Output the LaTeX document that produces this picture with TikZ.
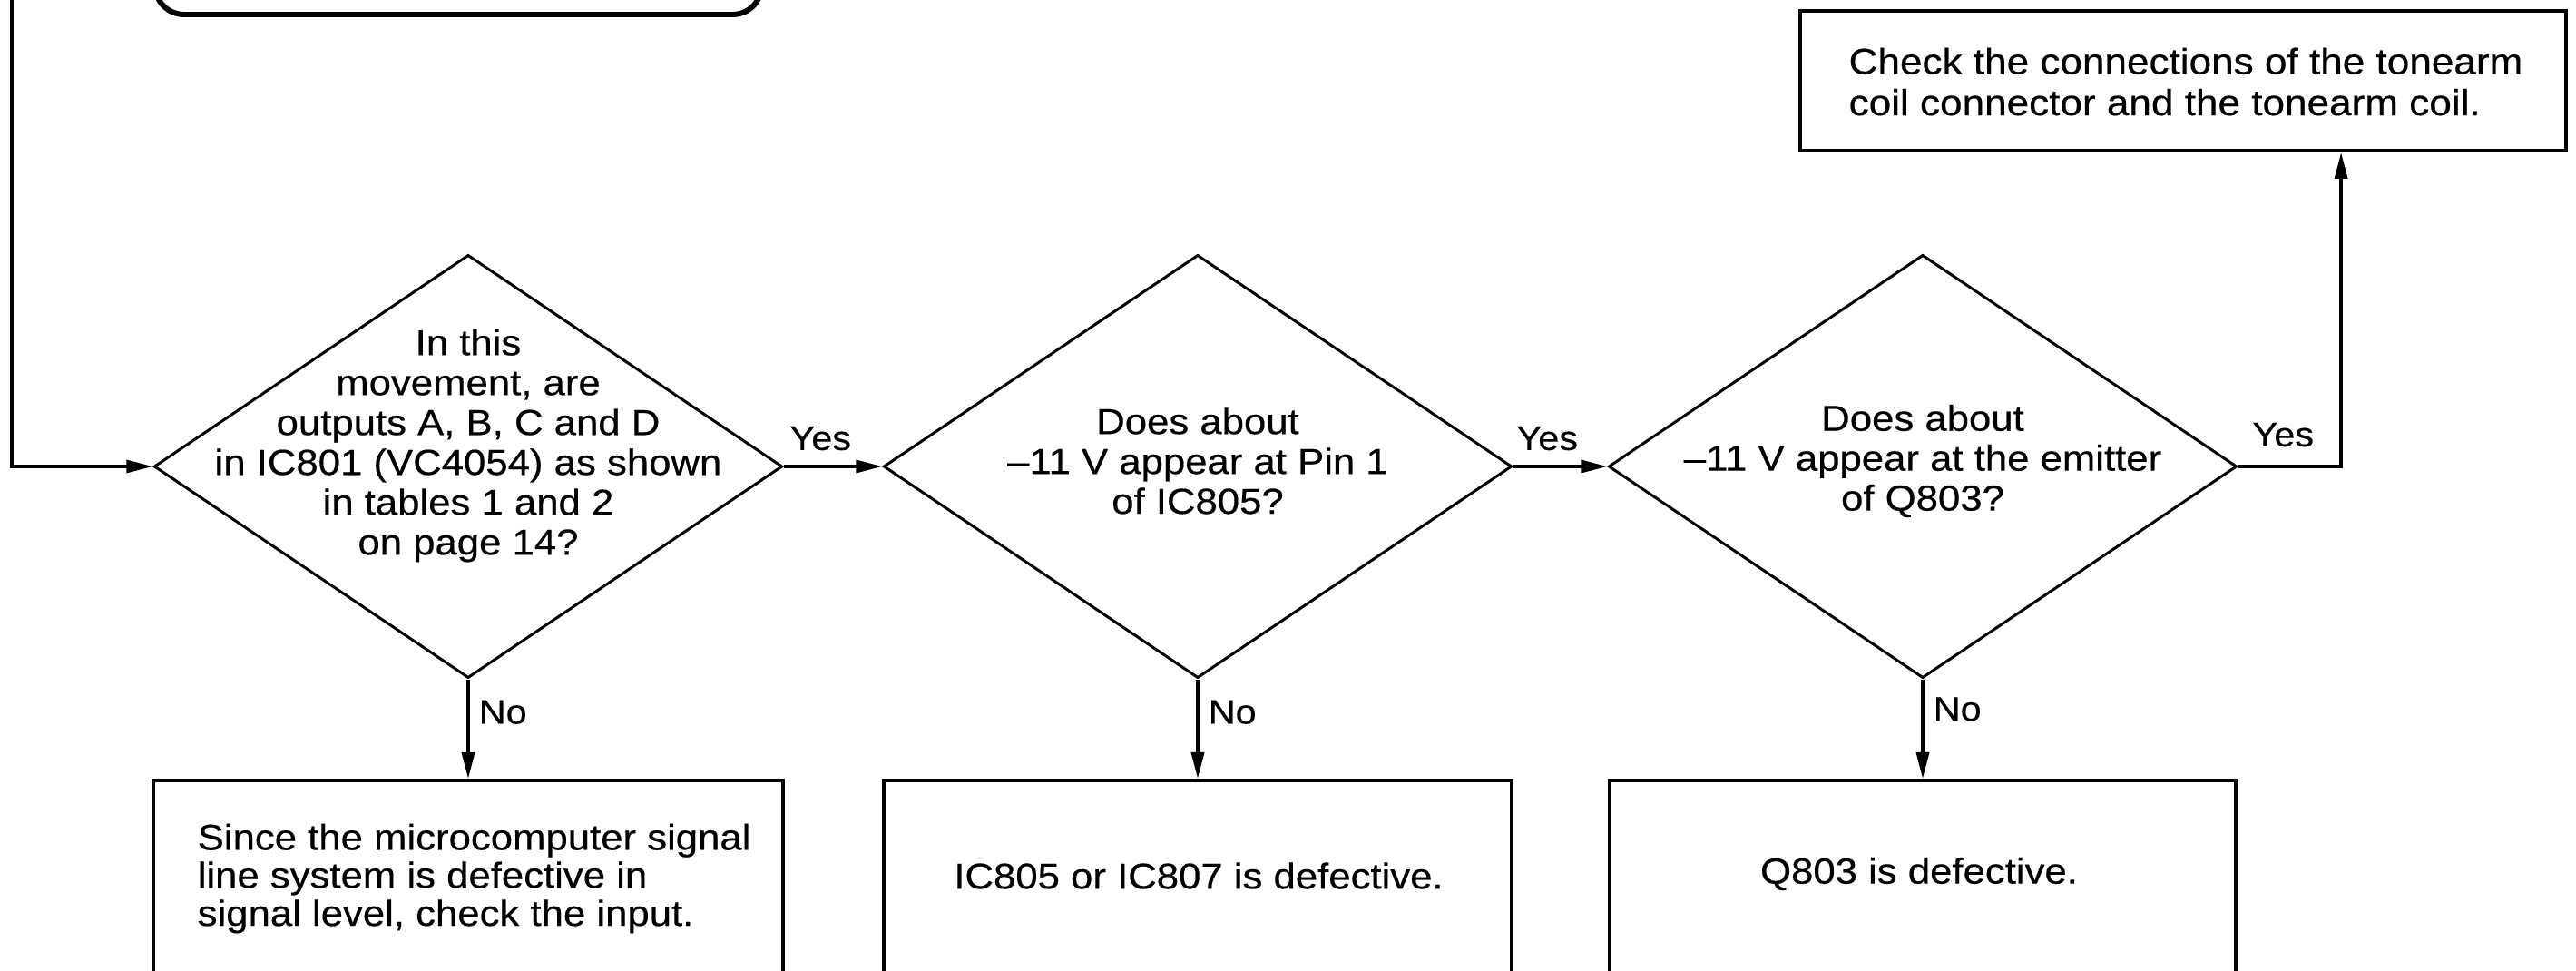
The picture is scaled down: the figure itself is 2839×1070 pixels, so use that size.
\documentclass[tikz,border=0pt]{standalone}
\usepackage{fontspec}
\setmainfont[FakeStretch=1.1,FakeBold=0.4]{Liberation Sans}
\usetikzlibrary{shapes.geometric,arrows.meta}
\begin{document}
\begin{tikzpicture}[x=0.01cm,y=-0.01cm,
  dia/.style={diamond, draw, line width=0.85pt, minimum width=6.92cm, minimum height=4.66cm, inner sep=0pt},
  rbox/.style={draw, line width=1.1pt, rectangle, inner sep=0pt},
  arr/.style={line width=1pt, -{Triangle[length=0.29cm,width=0.14cm]}},
  qtext/.style={align=center, inner sep=0pt, font=\fontsize{11.3pt}{12.5pt}\selectfont},
  btext/.style={inner sep=0pt, font=\fontsize{11.3pt}{11.9pt}\selectfont},
  lbl/.style={inner sep=0pt, font=\fontsize{10.7pt}{11pt}\selectfont}]
\useasboundingbox (0,0) rectangle (2839,1070);
\clip (0,0) rectangle (2839,1070);
\fill[white] (0,0) rectangle (2839,1070);

% partially visible rounded box at the top
\node[draw, line width=1.7pt, rounded corners=0.32cm, minimum width=6.68cm, minimum height=3cm, anchor=south west] (prev) at (168,19) {};

% diamonds
\node[dia] (d1) at (516,514) {};
\node[dia] (d2) at (1320,514) {};
\node[dia] (d3) at (2119,514) {};
\node[qtext] (t1) at (516,491) {In this\\movement, are\\outputs A, B, C and D\\in IC801 (VC4054) as shown\\in tables 1 and 2\\on page 14?};
\node[qtext] (t2) at (1320,508) {Does about\\\textendash11 V appear at Pin 1\\of IC805?};
\node[qtext] (t3) at (2119,508) {Does about\\\textendash11 V appear at the emitter\\of Q803?};

% result boxes
\node[rbox, minimum width=8.44cm, minimum height=1.54cm] (tb) at (2406,89) {};
\node[align=left, inner sep=0pt, font=\fontsize{11.4pt}{12.9pt}\selectfont] (tbt) at (2409,90) {Check the connections of the tonearm\\coil connector and the tonearm coil.};

\node[rbox, minimum width=6.94cm, minimum height=3cm, anchor=north] (b1) at (516,858) {};
\node[rbox, minimum width=6.92cm, minimum height=3cm, anchor=north] (b2) at (1320,858) {};
\node[rbox, minimum width=6.90cm, minimum height=3cm, anchor=north] (b3) at (2119,858) {};
\node[btext, align=left, anchor=west] (b1t) at (217,968) {Since the microcomputer signal\\line system is defective in\\signal level, check the input.};
\node[btext] (b2t) at (1321,965) {IC805 or IC807 is defective.};
\node[btext] (b3t) at (2115,963) {Q803 is defective.};

% connectors
\coordinate (feed) at (13,0);
\draw[arr] (feed) |- (d1.west);
\draw[arr] (d1.east) -- node[lbl, pos=0, anchor=south west, xshift=0.05cm, yshift=0.16cm] {Yes} (d2.west);
\draw[arr] (d2.east) -- node[lbl, pos=0, anchor=south west, xshift=0.02cm, yshift=0.16cm] {Yes} (d3.west);
\draw[arr] (d3.east) -| node[lbl, pos=0, anchor=south west, xshift=0.14cm, yshift=0.2cm] {Yes} ([xshift=1.74cm]tb.south);
\draw[arr] (d1.south) -- node[lbl, pos=0.33, anchor=west, xshift=0.1cm] {No} (b1.north);
\draw[arr] (d2.south) -- node[lbl, pos=0.33, anchor=west, xshift=0.1cm] {No} (b2.north);
\draw[arr] (d3.south) -- node[lbl, pos=0.3, anchor=west, xshift=0.1cm] {No} (b3.north);
\end{tikzpicture}
\end{document}
